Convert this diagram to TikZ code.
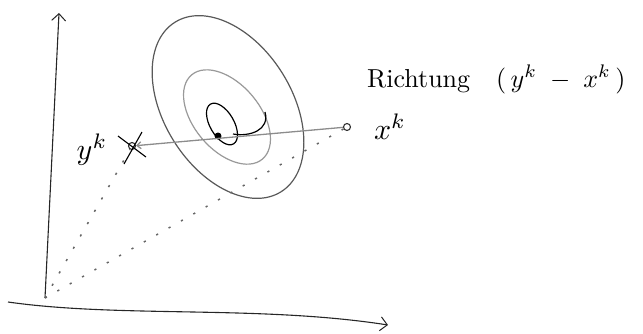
\documentclass[tikz,border=0pt]{standalone}
\usepackage{graphicx}
\usetikzlibrary{arrows.meta}
\begin{document}
\begin{tikzpicture}[x=1pt,y=-1pt,
  axis/.style={line width=1.1pt,black!85,-{Straight Barb[length=7pt,width=14pt,line width=1pt]}},
  contour/.style={line width=1.2pt},
  dotline/.style={black!60,line width=1.5pt,dash pattern=on 2.2pt off 12pt},
  dirline/.style={black!45,line width=1.3pt,-{Straight Barb[length=4pt,width=7pt]}},
  pt/.style={circle,draw=black!80,line width=1.1pt,inner sep=0pt,minimum size=7pt},
  lab/.style={inner sep=0pt}]
\useasboundingbox (0,0) rectangle (643,333);
% axes
\coordinate (O) at (45,298);
\coordinate (ytop) at (59,13);
\coordinate (xl) at (8,302);
\coordinate (xr) at (388,325);
\draw[axis] (O) -- (ytop);
\draw[axis] (xl) .. controls (120,318) and (260,305) .. (xr);
% contours
\draw[contour,black!65] (228,107) ellipse[x radius=100,y radius=64,rotate=-58];
\draw[contour,black!40] (227,117) ellipse[x radius=55,y radius=33,rotate=-50];
\draw[contour,black] (222,124) ellipse[x radius=23,y radius=12,rotate=-60];
\coordinate (h1) at (233,134);
\coordinate (h2) at (265,112);
\draw[contour,black] (h1) .. controls (250,137) and (270,130) .. (h2);
% points
\node[pt] (yk) at (132,146) {};
\node[pt] (xk) at (347,127) {};
\node[circle,fill=black,inner sep=0pt,minimum size=7pt] (c) at (218,136) {};
\draw[line width=1.1pt] (118,136) -- (146,157);
\draw[line width=1.1pt] (124,164) -- (142,132);
% dotted lines from origin
\draw[dotline] (O) -- (yk);
\draw[dotline] (O) -- (xk);
% direction
\draw[dirline] (xk) -- (yk);
% labels
\node[lab] (ylab) at (92,150) {\scalebox{3}{$y^k$}};
\node[lab] (xlab) at (390,127) {\scalebox{3}{$x^k$}};
\node[lab,anchor=base west] (rich) at (367,87) {\scalebox{2.6}{Richtung\hspace{10pt}$(\,y^k \;-\; x^k\,)$}};
\end{tikzpicture}
\end{document}
